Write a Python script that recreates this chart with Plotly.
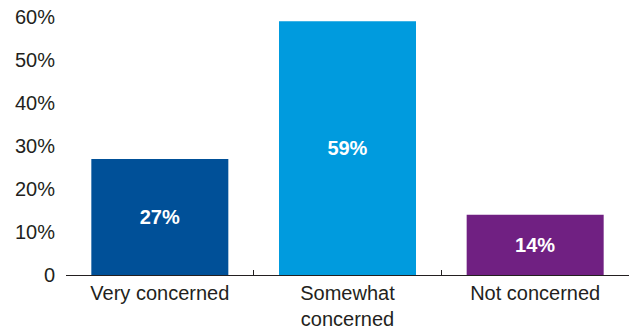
import plotly.graph_objects as go

categories = ["Very concerned", "Somewhat<br>concerned", "Not concerned"]
values = [27, 59, 14]
colors = ["#005098", "#009BDE", "#702082"]
ytick_vals = [0, 10, 20, 30, 40, 50, 60]
ytick_text = ["0", "10%", "20%", "30%", "40%", "50%", "60%"]

x = list(range(len(categories)))
fig = go.Figure(go.Bar(
    x=x, y=values, marker=dict(color=colors, line=dict(width=0)),
    width=0.73,
    text=[f"{v}%" for v in values], textposition="inside", insidetextanchor="middle",
    textfont=dict(color="white", size=20, family="Liberation Sans", weight="bold"),
    constraintext="none", cliponaxis=False,
))
fig.update_layout(
    width=629, height=329, margin=dict(l=66, r=0, t=17, b=54),
    plot_bgcolor="white", paper_bgcolor="white", showlegend=False,
    font=dict(family="Liberation Sans", size=20, color="#231f20"),
)
fig.update_xaxes(
    range=[-0.5, 2.5], tickvals=x, ticktext=categories, ticks="",
    showline=True, linecolor="#231f20", linewidth=1, showgrid=False, zeroline=False,
    minor=dict(tickvals=[0.5, 1.5], ticks="inside", ticklen=5, tickcolor="#231f20", tickwidth=1, showgrid=False),
    tickfont=dict(size=20),
)
fig.update_yaxes(
    range=[0, 60], tickvals=ytick_vals, ticktext=ytick_text, ticks="", showline=False,
    showgrid=False, zeroline=False, ticklabelstandoff=10, tickfont=dict(size=20),
)
fig.write_html("out.html")
